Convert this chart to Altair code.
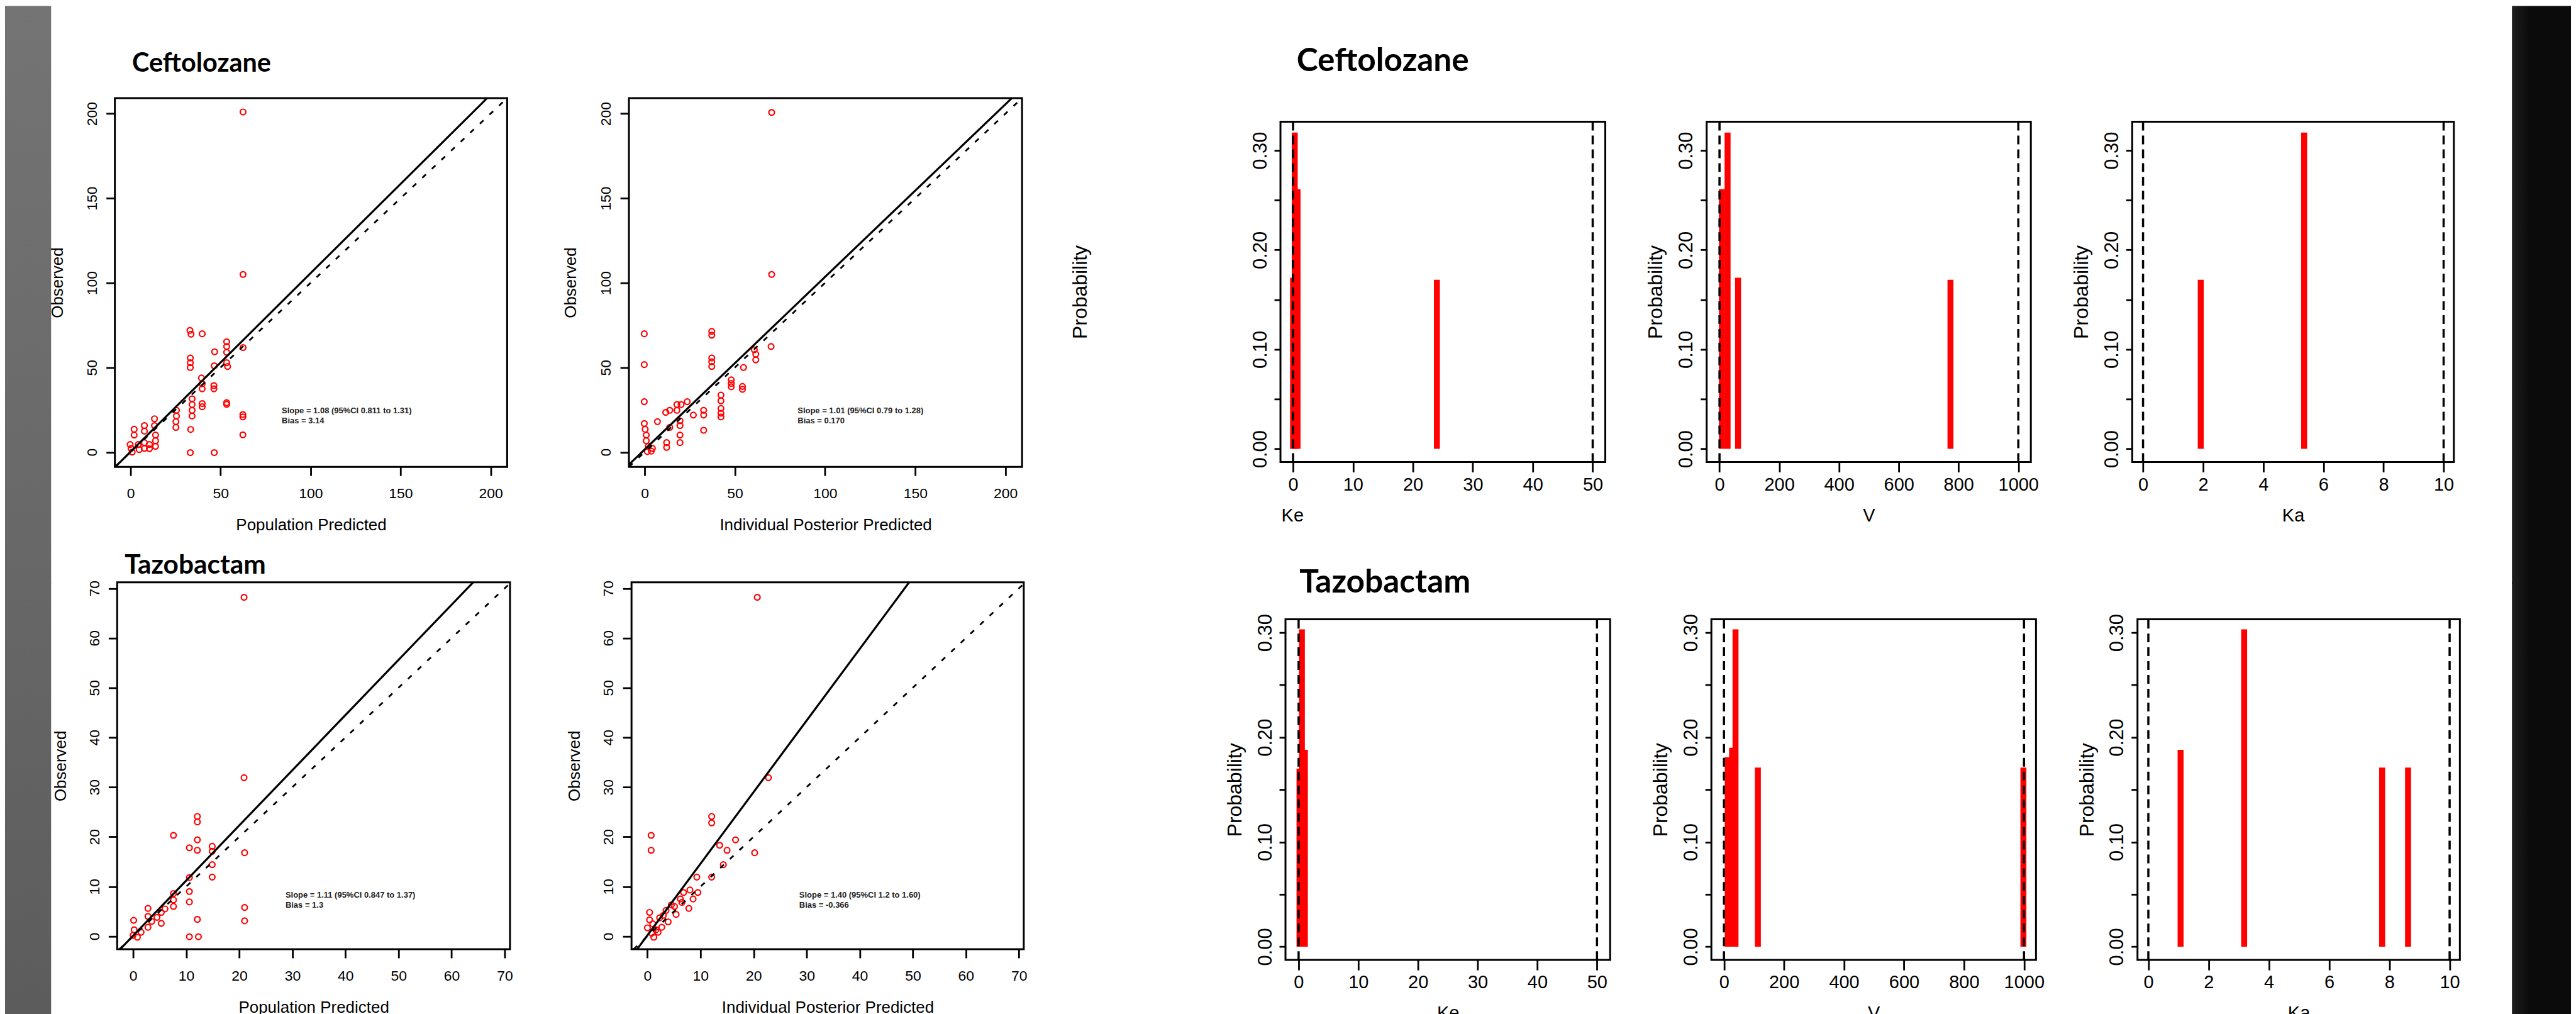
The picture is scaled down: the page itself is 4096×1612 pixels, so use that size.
import altair as alt
import pandas as pd

# ======================= DATA =======================
# Ceftolozane: observed vs population predicted
cef_pop_pred = [33.0, 33.6, 39.8, 53.4, 53.4, 53.4, 62.5, 46.7, 33.2, 33.2, 33.2, 46.5, 53.4, 53.9,
                39.4, 39.8, 39.8, 46.3, 46.3, 53.4, 53.4, 62.4, 62.4, 62.4, 34.2, 34.2, 34.2, 34.2,
                39.8, 39.8, 33.4, 25.5, 25.5, 25.2, 25.2, 13.3, 13.3, 13.9, 13.9, 13.9, 7.7, 7.7,
                7.7, 7.7, 2.0, 2.0, -0.2, 0.3, 0.9, 10.5, 10.5, 33.2, 46.5, 4.3, 4.8, 62.5, 62.5]
cef_pop_obs = [71.9, 69.7, 69.9, 65.2, 62.4, 59.0, 61.8, 59.3, 55.6, 52.8, 50.0, 51.0, 52.8, 50.6,
               43.8, 40.4, 37.4, 39.3, 37.4, 29.2, 28.2, 22.2, 20.8, 10.2, 31.5, 28.1, 24.7, 21.3,
               28.7, 26.8, 13.4, 24.7, 21.3, 18.0, 14.6, 19.7, 15.7, 10.1, 6.7, 3.4, 15.7, 12.4,
               5.6, 2.2, 13.5, 10.1, 4.5, 2.2, 0.0, 4.5, 2.0, -0.3, -0.3, 4.5, 1.5, 201.0, 105.0]

# Ceftolozane: observed vs individual posterior predicted
cef_ind_pred = [-0.2, -0.2, -0.2, 37.2, 37.2, 37.2, 37.2, 37.2, 70.1, 61.6, 61.6, 60.8, 54.8, 48.0,
                48.0, 48.0, 54.2, 54.2, 42.3, 42.3, 42.3, 42.3, 42.3, 32.7, 32.7, 32.7, 27.0, 23.6,
                20.2, 17.9, 17.9, 13.9, 11.7, 19.6, 19.6, 19.6, 19.6, 13.9, 12.2, 12.2, 7.1, -0.2,
                0.3, 0.9, 0.9, 2.0, 3.7, 4.3, 1.5, 70.4, 70.4]
cef_ind_obs = [69.9, 51.7, 29.8, 71.3, 69.1, 55.6, 53.4, 50.6, 62.4, 57.9, 54.5, 60.5, 50.0, 42.7,
               40.6, 38.6, 38.8, 37.1, 33.7, 30.3, 25.8, 23.0, 20.8, 24.7, 21.9, 12.9, 21.9, 29.8,
               28.1, 28.1, 24.7, 24.7, 23.5, 18.5, 15.7, 10.1, 5.6, 14.6, 5.6, 2.8, 18.0, 16.9,
               13.5, 10.1, 6.7, 3.4, 0.6, 2.2, 0.3, 200.7, 105.0]

# Tazobactam: observed vs population predicted
taz_pop_pred = [20.9, 20.9, 12.1, 12.1, 7.6, 12.1, 10.6, 12.1, 14.9, 14.9, 21.0, 14.9, 14.9, 10.6,
                10.6, 10.6, 12.1, 21.0, 21.0, 10.6, 12.3, 7.6, 7.6, 7.6, 5.3, 5.3, 2.8, 2.8, 2.8,
                0.1, 0.2, 0.0, 0.8, 1.5, 3.5, 6.0, 4.5]
taz_pop_obs = [68.2, 31.9, 24.1, 23.0, 20.3, 19.4, 17.8, 17.3, 18.1, 17.1, 16.8, 14.4, 11.9, 11.8,
               9.0, 6.9, 3.4, 5.8, 3.1, -0.1, -0.1, 8.6, 7.3, 6.0, 4.8, 2.6, 5.6, 4.0, 1.8,
               3.2, 1.3, 0.2, -0.2, 0.8, 3.0, 5.5, 3.8]

# Tazobactam: observed vs individual posterior predicted
taz_ind_pred = [20.7, 22.8, 12.1, 12.1, 0.7, 0.7, 16.6, 13.6, 15.0, 20.2, 14.3, 9.3, 12.1, 9.5,
                6.8, 8.6, 6.2, 5.1, 3.5, 5.4, 0.4, 0.4, 2.3, 3.9, 0.0, 0.8, 1.2, 1.6, 2.7, 7.8,
                4.5, 3.0, 1.0, 6.5, 8.0, 2.0]
taz_ind_obs = [68.2, 31.9, 24.1, 22.8, 20.3, 17.3, 19.4, 18.3, 17.3, 16.8, 14.4, 11.9, 11.9, 8.8,
               8.8, 7.5, 7.5, 6.0, 5.2, 4.4, 4.8, 3.3, 3.7, 2.9, 1.7, 0.6, -0.2, 1.3, 1.8, 5.6,
               6.3, 4.2, 2.5, 6.8, 9.3, 0.8]

# fitted (solid) and line of identity (dashed) end points
cef_pop_fit_x = [-8.44, 198.1]
cef_pop_fit_y = [-8.7, 209.2]
cef_ind_fit_x = [-8.7, 203.6]
cef_ind_fit_y = [-7.37, 209.2]
cef_unity = [-8.7, 209.2]
taz_pop_fit_x = [-2.43, 64.05]
taz_pop_fit_y = [-2.6, 71.2]
taz_ind_fit_x = [-1.94, 49.3]
taz_ind_fit_y = [-2.6, 71.2]
taz_unity = [-2.6, 70.9]

# regression notes
cef_pop_note = ["Slope = 1.08 (95%CI 0.811 to 1.31)", "Bias = 3.14"]
cef_ind_note = ["Slope = 1.01 (95%CI 0.79 to 1.28)", "Bias = 0.170"]
taz_pop_note = ["Slope = 1.11 (95%CI 0.847 to 1.37)", "Bias = 1.3"]
taz_ind_note = ["Slope = 1.40 (95%CI 1.2 to 1.60)", "Bias = -0.366"]
cef_note_x = [84.0, 84.8]
cef_note_y = [24.5, 18.4]
taz_note_x = [28.7, 28.6]
taz_note_y = [8.3, 6.2]

# marginal probability distributions of the support points
cef_ke_val = [0.0, 0.28, 0.75, 24.0]
cef_ke_prob = [0.172, 0.318, 0.261, 0.170]
cef_v_val = [8, 27, 62, 773]
cef_v_prob = [0.261, 0.318, 0.172, 0.170]
cef_ka_val = [1.92, 5.36]
cef_ka_prob = [0.170, 0.318]
taz_ke_val = [0.15, 0.55, 1.05]
taz_ke_prob = [0.170, 0.303, 0.188]
taz_v_val = [12.5, 27, 38.5, 113, 998]
taz_v_prob = [0.181, 0.190, 0.303, 0.171, 0.171]
taz_ka_val = [1.07, 3.18, 7.76, 8.62]
taz_ka_prob = [0.188, 0.303, 0.171, 0.171]

# parameter ranges (dashed limits) and ticks
ke_lim = [0, 50]
v_lim = [0, 1000]
ka_lim = [0, 10]
cef_ticks = [0, 50, 100, 150, 200]
taz_ticks = [0, 10, 20, 30, 40, 50, 60, 70]
prob_ticks = [0, 0.05, 0.10, 0.15, 0.20, 0.25, 0.30]
ke_ticks = [0, 10, 20, 30, 40, 50]
v_ticks = [0, 200, 400, 600, 800, 1000]
ka_ticks = [0, 2, 4, 6, 8, 10]

# ======================= STYLE / LAYOUT =======================
LF = "Liberation Sans"
TF = "Lato"
RED = "#ff0000"
ROW_H = [917.5, 690.0]
COL_W = [175.0, 818.5, 1038.0, 678.1, 678.0, 604.4, 94.0]


def axis(**kw):
    d = dict(grid=False, domain=False, tickColor="black", tickWidth=2.8, labelColor="black",
             labelFont=LF, labelOverlap=False, labelFlush=False, titleFont=LF,
             titleFontWeight="normal", titleColor="black")
    d.update(kw)
    return alt.Axis(**d)


def title_layer(text, x, y, size):
    return alt.Chart(pd.DataFrame({"t": [text]})).mark_text(
        align="left", baseline="alphabetic", font=TF, fontWeight="bold", fontSize=size, color="black"
    ).encode(text="t:N", x=alt.value(x), y=alt.value(y))


def scatter_cell(w, h, xdom, ydom, xr, yr, ticks, xtitle, ytx, xoff, yoff,
                 px, py, fx, fy, unity, note, nx, ny, title=None):
    xs = alt.Scale(domain=xdom, range=xr, nice=False, zero=False)
    ys = alt.Scale(domain=ydom, range=yr, nice=False, zero=False)
    xax = axis(values=ticks, format="d", offset=xoff, tickSize=14, labelFontSize=23, labelPadding=35.4,
               labelBaseline="alphabetic", title=xtitle, titleFontSize=26,
               titleBaseline="alphabetic", titleAlign="center", titleY=101)
    yax = axis(values=ticks, format="d", offset=yoff, tickSize=14, labelFontSize=23, labelPadding=15.3,
               labelAngle=270, labelAlign="center", labelBaseline="alphabetic",
               title="Observed", titleFontSize=26, titleAngle=270, titleBaseline="alphabetic",
               titleAlign="center", titleX=ytx)

    def X(f):
        return alt.X(f, scale=xs, axis=xax)

    def Y(f):
        return alt.Y(f, scale=ys, axis=yax)

    frame = alt.Chart(pd.DataFrame({"x0": [xdom[0]], "x1": [xdom[1]], "y0": [ydom[0]], "y1": [ydom[1]]})
                      ).mark_rect(fillOpacity=0, stroke="black", strokeWidth=3).encode(
        x=X("x0:Q"), x2="x1:Q", y=Y("y0:Q"), y2="y1:Q")
    ident = alt.Chart(pd.DataFrame({"x": unity, "y": unity})).mark_line(
        color="black", strokeWidth=2.8, strokeDash=[8, 13]).encode(x=X("x:Q"), y=Y("y:Q"))
    fit = alt.Chart(pd.DataFrame({"x": fx, "y": fy})).mark_line(
        color="black", strokeWidth=3.2).encode(x=X("x:Q"), y=Y("y:Q"))
    pts = alt.Chart(pd.DataFrame({"x": px, "y": py})).mark_point(
        shape="circle", filled=False, color=RED, size=80, strokeWidth=2.2, opacity=1).encode(
        x=X("x:Q"), y=Y("y:Q"))
    txt = alt.Chart(pd.DataFrame({"x": [nx, nx], "y": ny, "t": note})).mark_text(
        align="left", baseline="middle", font=LF, fontWeight="bold", fontSize=13, color="#222222").encode(
        x=X("x:Q"), y=Y("y:Q"), text="t:N")
    layers = [frame, pts, ident, fit, txt]
    if title is not None:
        layers.append(title_layer(*title))
    return alt.layer(*layers).properties(width=w, height=h)


def prob_cell(w, h, xdom, ydom, xr, yr, xticks, xtitle, xoff, yoff, ytx, bx, bp, lim,
              xtx=None, title=None):
    xs = alt.Scale(domain=xdom, range=xr, nice=False, zero=False)
    ys = alt.Scale(domain=ydom, range=yr, nice=False, zero=False)
    xkw = dict(values=xticks, format="d", offset=xoff, tickSize=16, labelFontSize=29, labelPadding=28.8,
               labelBaseline="alphabetic", title=xtitle, titleFontSize=29,
               titleBaseline="alphabetic", titleAlign="center", titleY=93.8)
    if xtx is not None:
        xkw["titleX"] = xtx
    xax = axis(**xkw)
    yax = axis(values=prob_ticks, offset=yoff, tickSize=10, labelFontSize=31, labelPadding=13,
               labelAngle=270, labelAlign="center", labelBaseline="alphabetic",
               labelExpr="(round(datum.value*100) % 10 == 0) ? format(datum.value, '.2f') : ''",
               title="Probability", titleFontSize=32, titleAngle=270, titleBaseline="alphabetic",
               titleAlign="center", titleX=ytx)

    def X(f):
        return alt.X(f, scale=xs, axis=xax)

    def Y(f):
        return alt.Y(f, scale=ys, axis=yax)

    frame = alt.Chart(pd.DataFrame({"x0": [xdom[0]], "x1": [xdom[1]], "y0": [ydom[0]], "y1": [ydom[1]]})
                      ).mark_rect(fillOpacity=0, stroke="black", strokeWidth=3).encode(
        x=X("x0:Q"), x2="x1:Q", y=Y("y0:Q"), y2="y1:Q")
    bars = alt.Chart(pd.DataFrame({"x": bx, "p": bp, "b": [0.0] * len(bx)})).mark_rule(
        color=RED, strokeWidth=9.5, strokeCap="butt").encode(
        x=X("x:Q"), y=Y("b:Q"), y2="p:Q")
    dash = alt.Chart(pd.DataFrame({"x": lim, "y0": [ydom[0]] * 2, "y1": [ydom[1]] * 2})).mark_rule(
        color="black", strokeWidth=3.5, strokeDash=[14, 8]).encode(
        x=X("x:Q"), y=Y("y0:Q"), y2="y1:Q")
    layers = [frame, bars, dash]
    if title is not None:
        layers.append(title_layer(*title))
    return alt.layer(*layers).properties(width=w, height=h)


def strip_cell(w, h, x1, stops, horizontal=False, extend=0.0):
    grad = alt.LinearGradient(
        gradient="linear",
        stops=[alt.GradientStop(color=c, offset=o) for c, o in stops],
        x1=0, y1=0, x2=1 if horizontal else 0, y2=0 if horizontal else 1)
    return alt.Chart(pd.DataFrame({"a": [0]})).mark_rect(fill=grad).encode(
        x=alt.value(0), x2=alt.value(x1), y=alt.value(0), y2=alt.value(h + extend)
    ).properties(width=w, height=h)


H1, H2 = ROW_H
CEF_DOM = [-8.7, 209.2]
TAZ_X1 = [-3.0, 71.0]
TAZ_X2 = [-3.0, 70.9]
TAZ_Y = [-2.6, 71.2]
P1_Y = [-0.0132, 0.3289]
P2_Y = [-0.0127, 0.3127]
R1_YR = [726.3, 184.2]
R2_YR = [601.5, 58.8]
BLACK_STOPS = [("#1e1e1e", 0), ("#0b0b0b", 0.3), ("#0b0b0b", 1)]

cells = [
    # ---------------- row 1
    strip_cell(COL_W[0], H1, 73.4, [("#747474", 0), ("#676767", 1)], extend=3),
    scatter_cell(COL_W[1], H1, CEF_DOM, CEF_DOM, [0, 625.0], [734.0, 146.6], cef_ticks,
                 "Population Predicted", -83.8, -183.5, 0,
                 cef_pop_pred, cef_pop_obs, cef_pop_fit_x, cef_pop_fit_y, cef_unity,
                 cef_pop_note, cef_note_x[0], cef_note_y, title=("Ceftolozane", 27.5, 104.5, 41.5)),
    scatter_cell(COL_W[2], H1, CEF_DOM, CEF_DOM, [0, 626.3], [734.0, 146.6], cef_ticks,
                 "Individual Posterior Predicted", -84.7, -183.5, 0,
                 cef_ind_pred, cef_ind_obs, cef_ind_fit_x, cef_ind_fit_y, cef_unity,
                 cef_ind_note, cef_note_x[1], cef_note_y),
    prob_cell(COL_W[3], H1, [-2.1, 52.1], P1_Y, [0, 517.5], R1_YR, ke_ticks, "Ke", -191.2, 0,
              -309.5, cef_ke_val, cef_ke_prob, ke_lim, xtx=18.8,
              title=("Ceftolozane", 25.7, 103.6, 51.5)),
    prob_cell(COL_W[4], H1, [-43, 1042], P1_Y, [0, 516.5], R1_YR, v_ticks, "V", -191.2, 0,
              -71, cef_v_val, cef_v_prob, v_lim),
    prob_cell(COL_W[5], H1, [-0.36, 10.34], P1_Y, [0, 512.4], R1_YR, ka_ticks, "Ka", -191.2, 0,
              -71, cef_ka_val, cef_ka_prob, ka_lim),
    strip_cell(COL_W[6], H1, 94, BLACK_STOPS, horizontal=True, extend=3),
    # ---------------- row 2
    strip_cell(COL_W[0], H2, 73.4, [("#676767", 0), ("#5c5c5c", 1)]),
    scatter_cell(COL_W[1], H2, TAZ_X1, TAZ_Y, [3.7, 629.5], [584.3, 0], taz_ticks,
                 "Population Predicted", -81.7, -105.7, -3.7,
                 taz_pop_pred, taz_pop_obs, taz_pop_fit_x, taz_pop_fit_y, taz_unity,
                 taz_pop_note, taz_note_x[0], taz_note_y, title=("Tazobactam", 15.6, -14.2, 42.5)),
    scatter_cell(COL_W[2], H2, TAZ_X2, TAZ_Y, [4.1, 629.0], [584.3, 0], taz_ticks,
                 "Individual Posterior Predicted", -82.9, -105.7, -4.1,
                 taz_ind_pred, taz_ind_obs, taz_ind_fit_x, taz_ind_fit_y, taz_unity,
                 taz_ind_note, taz_note_x[1], taz_note_y),
    prob_cell(COL_W[3], H2, [-2.2, 52.2], P2_Y, [8.0, 525.2], R2_YR, ke_ticks, "Ke", -88.5, -8.0,
              -70.5, taz_ke_val, taz_ke_prob, ke_lim, title=("Tazobactam", 30.2, 16.0, 51.5)),
    prob_cell(COL_W[4], H2, [-42, 1040], P2_Y, [7.5, 524.7], R2_YR, v_ticks, "V", -88.5, -7.5,
              -71, taz_v_val, taz_v_prob, v_lim),
    prob_cell(COL_W[5], H2, [-0.36, 10.34], P2_Y, [8.4, 522.0], R2_YR, ka_ticks, "Ka", -88.5, -8.4,
              -70.4, taz_ka_val, taz_ka_prob, ka_lim),
    strip_cell(COL_W[6], H2, 94, BLACK_STOPS, horizontal=True),
]

chart = alt.concat(*cells, columns=7, spacing=0, bounds="flush").properties(
    padding=0, background="white"
).configure_view(strokeOpacity=0, strokeWidth=0)

chart.save("out.html", embed_options={"renderer": "svg", "actions": False})
